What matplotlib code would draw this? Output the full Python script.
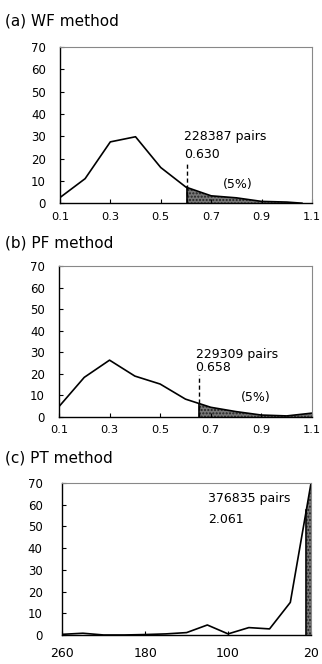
import numpy as np
import matplotlib
matplotlib.use("Agg")
from matplotlib import pyplot as plt

plt.rcParams['font.family'] = ['DejaVu Sans']

# (a) WF method
wf_x = [0.1, 0.2, 0.3, 0.4, 0.5, 0.6, 0.7, 0.8, 0.9, 1.0, 1.06]
wf_y = [2.5, 11, 27.5, 29.8, 16, 7.2, 3.3, 2.4, 0.8, 0.5, 0.0]
wf_cut = 0.603
wf_pairs = "228387 pairs"
wf_thr = "0.630"

# (b) PF method
pf_x = [0.1, 0.2, 0.3, 0.4, 0.5, 0.6, 0.7, 0.8, 0.9, 1.0, 1.1]
pf_y = [4.8, 18.4, 26.4, 19, 15.3, 8.3, 4.5, 2.5, 0.9, 0.5, 1.8]
pf_cut = 0.655
pf_pairs = "229309 pairs"
pf_thr = "0.658"

# (c) PT method
pt_x = [260, 240, 220, 200, 180, 160, 140, 120, 100, 80, 60, 40, 20]
pt_y = [0.3, 0.8, 0.0, 0.0, 0.2, 0.5, 1.1, 4.6, 0.5, 3.4, 2.8, 15, 70]
pt_cut = 24.5
pt_pairs = "376835 pairs"
pt_thr = "2.061"

yticks = [0, 10, 20, 30, 40, 50, 60, 70]
xt_ab = [0.1, 0.3, 0.5, 0.7, 0.9, 1.1]
xt_ab_lab = ['0.1', '0.3', '0.5', '0.7', '0.9', '1.1']
xt_c = [260, 180, 100, 20]

fig = plt.figure(figsize=(3.22, 6.64), dpi=100)


def style(ax, ypad=10, xpad=6, xsize=8.2):
    ax.set_ylim(0, 70)
    ax.set_yticks(yticks)
    ax.tick_params(direction='in', length=3, width=0.8)
    ax.tick_params(axis='y', pad=ypad, labelsize=8.5)
    ax.tick_params(axis='x', pad=xpad, labelsize=xsize)
    for s in ['top', 'right']:
        ax.spines[s].set_color('#888888')
        ax.spines[s].set_linewidth(0.8)
    for s in ['left', 'bottom']:
        ax.spines[s].set_linewidth(1.0)


def shade(ax, x, y, cut, right_end):
    xs = np.linspace(cut, right_end, 60)
    ys = np.interp(xs, x, y)
    ax.fill_between(xs, 0, ys, facecolor='#777777', edgecolor='#222222',
                    hatch='.....', linewidth=0)
    ax.plot([cut, cut], [0, np.interp(cut, x, y)], color='black', lw=1.2)


# panel a
ax1 = fig.add_axes([0.186, 0.694, 0.783, 0.235])
ax1.plot(wf_x, wf_y, color='black', lw=1.2)
shade(ax1, wf_x, wf_y, wf_cut, wf_x[-1])
ax1.plot([wf_cut, wf_cut], [0, 18.5], color='black', lw=1, ls=(0, (3, 2)))
ax1.set_xlim(0.1, 1.1)
ax1.set_xticks(xt_ab)
ax1.set_xticklabels(xt_ab_lab)
style(ax1)
ax1.text(0.592, 30, wf_pairs, fontsize=9, va='center')
ax1.text(0.592, 22, wf_thr, fontsize=9, va='center')
ax1.text(0.747, 8.5, "(5%)", fontsize=9, va='center')
fig.text(0.015, 0.969, "(a) WF method", fontsize=11, va='center')

# panel b
ax2 = fig.add_axes([0.183, 0.372, 0.786, 0.227])
ax2.plot(pf_x, pf_y, color='black', lw=1.2)
shade(ax2, pf_x, pf_y, pf_cut, pf_x[-1])
ax2.plot([pf_cut, pf_cut], [0, 19.5], color='black', lw=1, ls=(0, (3, 2)))
ax2.set_xlim(0.1, 1.1)
ax2.set_xticks(xt_ab)
ax2.set_xticklabels(xt_ab_lab)
style(ax2)
ax2.text(0.64, 29.2, pf_pairs, fontsize=9, va='center')
ax2.text(0.64, 23.0, pf_thr, fontsize=9, va='center')
ax2.text(0.82, 9, "(5%)", fontsize=9, va='center')
fig.text(0.015, 0.634, "(b) PF method", fontsize=11, va='center')

# panel c
ax3 = fig.add_axes([0.193, 0.0437, 0.773, 0.229])
ax3.plot(pt_x, pt_y, color='black', lw=1.2)
xs = np.linspace(pt_cut, pt_x[-1], 20)
ax3.fill_between(xs, 0, np.interp(xs, pt_x[::-1], pt_y[::-1]),
                 facecolor='#777777', edgecolor='#222222', hatch='.....', linewidth=0)
ax3.plot([pt_cut, pt_cut], [0, np.interp(pt_cut, pt_x[::-1], pt_y[::-1])],
         color='black', lw=1.2)
ax3.set_xlim(260, 20)
ax3.set_xticks(xt_c)
style(ax3, ypad=14, xpad=9, xsize=9)
ax3.text(119, 62.8, pt_pairs, fontsize=9, va='center')
ax3.text(119, 53, pt_thr, fontsize=9, va='center')
fig.text(0.015, 0.31, "(c) PT method", fontsize=11, va='center')

fig.savefig("out.png", dpi=100)
